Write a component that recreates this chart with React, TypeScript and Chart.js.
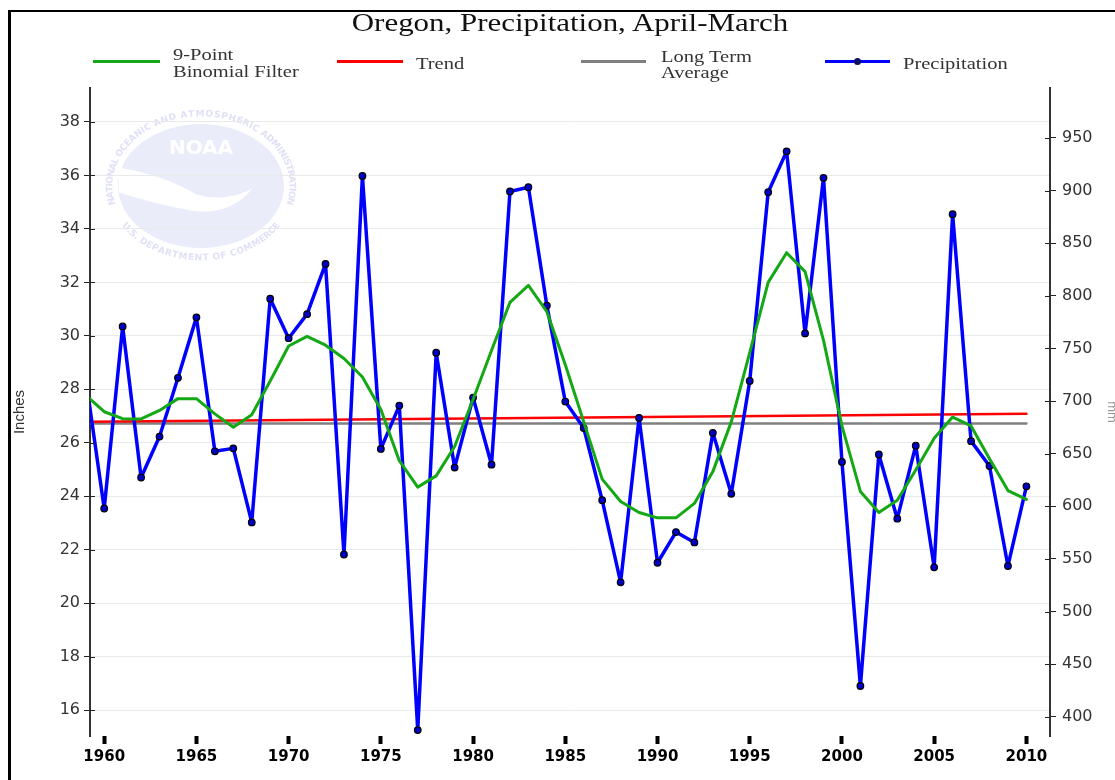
import React, { useEffect, useRef } from "react";
import { Chart, registerables } from "chart.js";

Chart.register(...registerables);

// ---------- data ----------
const years = [
  1959, 1960, 1961, 1962, 1963, 1964, 1965, 1966, 1967, 1968, 1969,
  1970, 1971, 1972, 1973, 1974, 1975, 1976, 1977, 1978, 1979,
  1980, 1981, 1982, 1983, 1984, 1985, 1986, 1987, 1988, 1989,
  1990, 1991, 1992, 1993, 1994, 1995, 1996, 1997, 1998, 1999,
  2000, 2001, 2002, 2003, 2004, 2005, 2006, 2007, 2008, 2009, 2010,
];

const precipitation = [
  28.4, 23.54, 30.35, 24.7, 26.23, 28.43, 30.69, 25.68, 25.79, 23.02, 31.39,
  29.91, 30.81, 32.69, 21.82, 35.98, 25.77, 27.39, 15.25, 29.37, 25.07,
  27.69, 25.18, 35.4, 35.56, 31.13, 27.54, 26.55, 23.85, 20.78, 26.93,
  21.51, 22.66, 22.27, 26.37, 24.09, 28.31, 35.37, 36.9, 30.09, 35.91,
  25.28, 16.9, 25.56, 23.16, 25.89, 21.34, 34.55, 26.06, 25.13, 21.39, 24.37,
];

const binomialFilter = [
  27.78, 27.16, 26.9, 26.89, 27.21, 27.65, 27.65, 27.08, 26.58, 27.05, 28.31,
  29.62, 29.98, 29.65, 29.15, 28.46, 27.24, 25.33, 24.34, 24.76, 25.86,
  27.62, 29.45, 31.25, 31.89, 30.9, 28.92, 26.78, 24.64, 23.8, 23.39,
  23.19, 23.19, 23.73, 24.92, 26.78, 29.37, 32.0, 33.11, 32.4, 29.83,
  26.63, 24.18, 23.39, 23.85, 24.98, 26.17, 26.96, 26.63, 25.4, 24.21, 23.88,
];

const trendYears = [1959, 2010];
const trendValues = [26.78, 27.08];

const averageYears = [1959, 2010];
const averageValues = [26.72, 26.72];

const yearTicks = [1960, 1965, 1970, 1975, 1980, 1985, 1990, 1995, 2000, 2005, 2010];
const inchTicks = [16, 18, 20, 22, 24, 26, 28, 30, 32, 34, 36, 38];
const mmTicks = [400, 450, 500, 550, 600, 650, 700, 750, 800, 850, 900, 950];

const legendLabels = [
  ["9-Point", "Binomial Filter"],
  ["Trend"],
  ["Long Term", "Average"],
  ["Precipitation"],
];

const titleText = "Oregon, Precipitation, April-March";

const X_MIN = 1959.23;
const X_MAX = 2011.28;
const Y_MIN = 15.03;
const Y_MAX = 39.27;
const MM_PER_INCH = 25.4;

const GREEN = "#14a814";
const RED = "#ff0000";
const GRAY = "#808080";
const BLUE = "#0000ff";

// ---------- watermark ----------
function ringText(
  ctx: CanvasRenderingContext2D,
  text: string,
  cx: number,
  cy: number,
  rx: number,
  ry: number,
  a0: number,
  a1: number,
  bottom: boolean
) {
  const chars = Array.from(text);
  const widths = chars.map((c) => ctx.measureText(c).width);
  const total = widths.reduce((a, b) => a + b, 0);
  let acc = 0;
  chars.forEach((ch, i) => {
    const mid = (acc + widths[i] / 2) / total;
    acc += widths[i];
    const a = a0 + (a1 - a0) * mid;
    const x = cx + rx * Math.cos(a);
    const y = cy + ry * Math.sin(a);
    const rot = bottom
      ? Math.atan2(-ry * Math.cos(a), rx * Math.sin(a))
      : Math.atan2(ry * Math.cos(a), -rx * Math.sin(a));
    ctx.save();
    ctx.translate(x, y);
    ctx.rotate(rot);
    ctx.fillText(ch, 0, 0);
    ctx.restore();
  });
}

const logoPlugin = {
  id: "noaaLogo",
  beforeDraw(chart: any) {
    const ctx: CanvasRenderingContext2D = chart.ctx;
    const cx = 201;
    const cy = 186;
    const rx = 83;
    const ry = 62;
    ctx.save();
    ctx.fillStyle = "#ebecfa";
    ctx.beginPath();
    ctx.ellipse(cx, cy, rx, ry, 0, 0, Math.PI * 2);
    ctx.fill();
    // gull
    const P = (u: number, v: number): [number, number] => [cx + u * rx, cy + v * ry];
    ctx.fillStyle = "#ffffff";
    ctx.beginPath();
    ctx.moveTo(...P(-0.99, -0.3));
    ctx.quadraticCurveTo(...P(-0.45, -0.18), ...P(-0.05, 0.14));
    ctx.quadraticCurveTo(...P(0.3, 0.27), ...P(0.62, 0.04));
    ctx.quadraticCurveTo(...P(0.35, 0.48), ...P(-0.1, 0.4));
    ctx.quadraticCurveTo(...P(-0.6, 0.28), ...P(-0.99, 0.1));
    ctx.closePath();
    ctx.fill();
    ctx.font = "bold 20px 'DejaVu Sans'";
    ctx.textAlign = "center";
    ctx.textBaseline = "middle";
    ctx.fillText("NOAA", cx, cy - 37);
    ctx.fillStyle = "#e0e1f6";
    ctx.font = "bold 9px 'DejaVu Sans'";
    ringText(ctx, "NATIONAL OCEANIC AND ATMOSPHERIC ADMINISTRATION", cx, cy, 91, 72,
      (165 * Math.PI) / 180, (375 * Math.PI) / 180, false);
    ringText(ctx, "U.S. DEPARTMENT OF COMMERCE", cx, cy, 91, 72,
      (148 * Math.PI) / 180, (32 * Math.PI) / 180, true);
    ctx.restore();
  },
};

const crossTickPlugin = {
  id: "crossTicks",
  afterDraw(chart: any) {
    const ctx: CanvasRenderingContext2D = chart.ctx;
    const { left, right } = chart.chartArea;
    ctx.save();
    ctx.strokeStyle = "#222";
    ctx.lineWidth = 1;
    ctx.beginPath();
    inchTicks.forEach((v) => {
      const py = Math.round(chart.scales.y.getPixelForValue(v)) + 0.5;
      ctx.moveTo(left, py);
      ctx.lineTo(left + 5, py);
    });
    mmTicks.forEach((v) => {
      const py = Math.round(chart.scales.y2.getPixelForValue(v)) + 0.5;
      ctx.moveTo(right - 5, py);
      ctx.lineTo(right, py);
    });
    ctx.stroke();
    ctx.restore();
  },
};

function ChartCanvas() {
  const ref = useRef<HTMLCanvasElement | null>(null);
  useEffect(() => {
    if (!ref.current) return;
    const lineCommon = {
      tension: 0,
      clip: 0,
      borderJoinStyle: "round",
      borderCapStyle: "round",
    };
    const chart = new Chart(ref.current, {
      type: "line",
      data: {
        datasets: [
          {
            ...lineCommon,
            label: legendLabels[0].join(" "),
            data: years.map((x, i) => ({ x, y: binomialFilter[i] })),
            borderColor: GREEN,
            borderWidth: 3,
            pointRadius: 0,
            order: 0,
          },
          {
            ...lineCommon,
            label: legendLabels[3].join(" "),
            data: years.map((x, i) => ({ x, y: precipitation[i] })),
            borderColor: BLUE,
            borderWidth: 3.5,
            pointRadius: 3.3,
            pointBackgroundColor: "#0000c8",
            pointBorderColor: "#000000",
            pointBorderWidth: 1.2,
            order: 1,
          },
          {
            ...lineCommon,
            label: legendLabels[1].join(" "),
            data: trendYears.map((x, i) => ({ x, y: trendValues[i] })),
            borderColor: RED,
            borderWidth: 2.5,
            pointRadius: 0,
            order: 2,
          },
          {
            ...lineCommon,
            label: legendLabels[2].join(" "),
            data: averageYears.map((x, i) => ({ x, y: averageValues[i] })),
            borderColor: GRAY,
            borderWidth: 2.5,
            pointRadius: 0,
            order: 3,
          },
        ],
      },
      options: {
        animation: false,
        responsive: false,
        maintainAspectRatio: false,
        layout: { padding: { top: 88, left: 0, right: 0, bottom: 0 } },
        plugins: {
          legend: { display: false },
          title: { display: false },
          tooltip: { enabled: false },
        },
        scales: {
          x: {
            type: "linear",
            min: X_MIN,
            max: X_MAX,
            afterBuildTicks: (s: any) => {
              s.ticks = yearTicks.map((v) => ({ value: v }));
            },
            afterFit: (s: any) => {
              s.height = 44;
            },
            grid: {
              drawOnChartArea: false,
              tickLength: 8,
              tickWidth: 4,
              tickColor: "#000",
            },
            border: { display: false },
            ticks: {
              padding: 4,
              color: "#000",
              autoSkip: false,
              maxRotation: 0,
              font: { family: "'DejaVu Sans'", size: 15, weight: "bold" },
              callback: (v: any) => String(v),
            },
          },
          y: {
            type: "linear",
            position: "left",
            min: Y_MIN,
            max: Y_MAX,
            afterBuildTicks: (s: any) => {
              s.ticks = inchTicks.map((v) => ({ value: v }));
            },
            afterFit: (s: any) => {
              s.width = 90;
            },
            grid: {
              color: "#e9e9e9",
              lineWidth: 1,
              tickColor: "#222",
              tickLength: 6,
            },
            border: { color: "#333", width: 2 },
            ticks: {
              padding: 4,
              color: "#333",
              font: { family: "'DejaVu Sans'", size: 16 },
              callback: (v: any) => String(v),
            },
            title: {
              display: true,
              text: "Inches",
              color: "#333",
              padding: { top: 11, bottom: 0 },
              font: { family: "'Liberation Sans'", size: 15 },
            },
          },
          y2: {
            type: "linear",
            position: "right",
            min: Y_MIN * MM_PER_INCH,
            max: Y_MAX * MM_PER_INCH,
            afterBuildTicks: (s: any) => {
              s.ticks = mmTicks.map((v) => ({ value: v }));
            },
            afterFit: (s: any) => {
              s.width = 65;
            },
            grid: {
              drawOnChartArea: false,
              tickColor: "#222",
              tickLength: 6,
            },
            border: { color: "#333", width: 2 },
            ticks: {
              padding: 6,
              color: "#333",
              font: { family: "'DejaVu Sans'", size: 16 },
              callback: (v: any) => String(v),
            },
            title: {
              display: true,
              text: "mm",
              color: "#999",
              padding: { top: -4, bottom: 0 },
              font: { family: "'Liberation Sans'", size: 13 },
            },
          },
        },
      },
      plugins: [logoPlugin, crossTickPlugin],
    } as any);
    return () => chart.destroy();
  }, []);
  return (
    <canvas
      ref={ref}
      width={1115}
      height={780}
      style={{ position: "absolute", left: 0, top: 0, width: 1115, height: 780 }}
    />
  );
}

const legendText: React.CSSProperties = {
  position: "absolute",
  fontFamily: "'Liberation Serif', serif",
  fontSize: 16,
  lineHeight: "16px",
  color: "#333",
  whiteSpace: "nowrap",
  transform: "scaleX(1.28)",
  transformOrigin: "left top",
};
const BASE = 13.4; // baseline offset for 16px Liberation Serif with 16px line height

function LegendLine({ x0, x1, color, dot }: { x0: number; x1: number; color: string; dot?: boolean }) {
  return (
    <>
      <div
        style={{
          position: "absolute",
          left: x0,
          top: 59.5,
          width: x1 - x0,
          height: 3,
          background: color,
        }}
      />
      {dot ? (
        <div
          style={{
            position: "absolute",
            left: (x0 + x1) / 2 - 3.5,
            top: 57.5,
            width: 7,
            height: 7,
            borderRadius: "50%",
            background: "#101060",
          }}
        />
      ) : null}
    </>
  );
}

export default function App() {
  return (
    <div
      style={{
        position: "fixed",
        left: 0,
        top: 0,
        width: 1115,
        height: 780,
        overflow: "hidden",
        background: "#fff",
      }}
    >
      <div
        style={{
          position: "absolute",
          left: 8,
          top: 10,
          width: 1300,
          height: 1000,
          borderLeft: "3px solid #000",
          borderTop: "2px solid #000",
        }}
      />
      <ChartCanvas />
      <div
        style={{
          position: "absolute",
          left: 570,
          top: 10.4,
          fontFamily: "'Liberation Serif', serif",
          fontSize: 26,
          lineHeight: "26px",
          color: "#111",
          whiteSpace: "nowrap",
          transform: "translateX(-50%) scaleX(1.19)",
        }}
      >
        {titleText}
      </div>
      <LegendLine x0={93} x1={160} color={GREEN} />
      <div style={{ ...legendText, left: 173, top: 60.5 - BASE }}>{legendLabels[0][0]}</div>
      <div style={{ ...legendText, left: 173, top: 77.3 - BASE }}>{legendLabels[0][1]}</div>
      <LegendLine x0={337} x1={403} color={RED} />
      <div style={{ ...legendText, left: 416, top: 69.5 - BASE }}>{legendLabels[1][0]}</div>
      <LegendLine x0={581} x1={646} color={GRAY} />
      <div style={{ ...legendText, left: 661, top: 62 - BASE }}>{legendLabels[2][0]}</div>
      <div style={{ ...legendText, left: 661, top: 78.5 - BASE }}>{legendLabels[2][1]}</div>
      <LegendLine x0={825} x1={890} color={BLUE} dot />
      <div style={{ ...legendText, left: 903, top: 69.5 - BASE }}>{legendLabels[3][0]}</div>
    </div>
  );
}
